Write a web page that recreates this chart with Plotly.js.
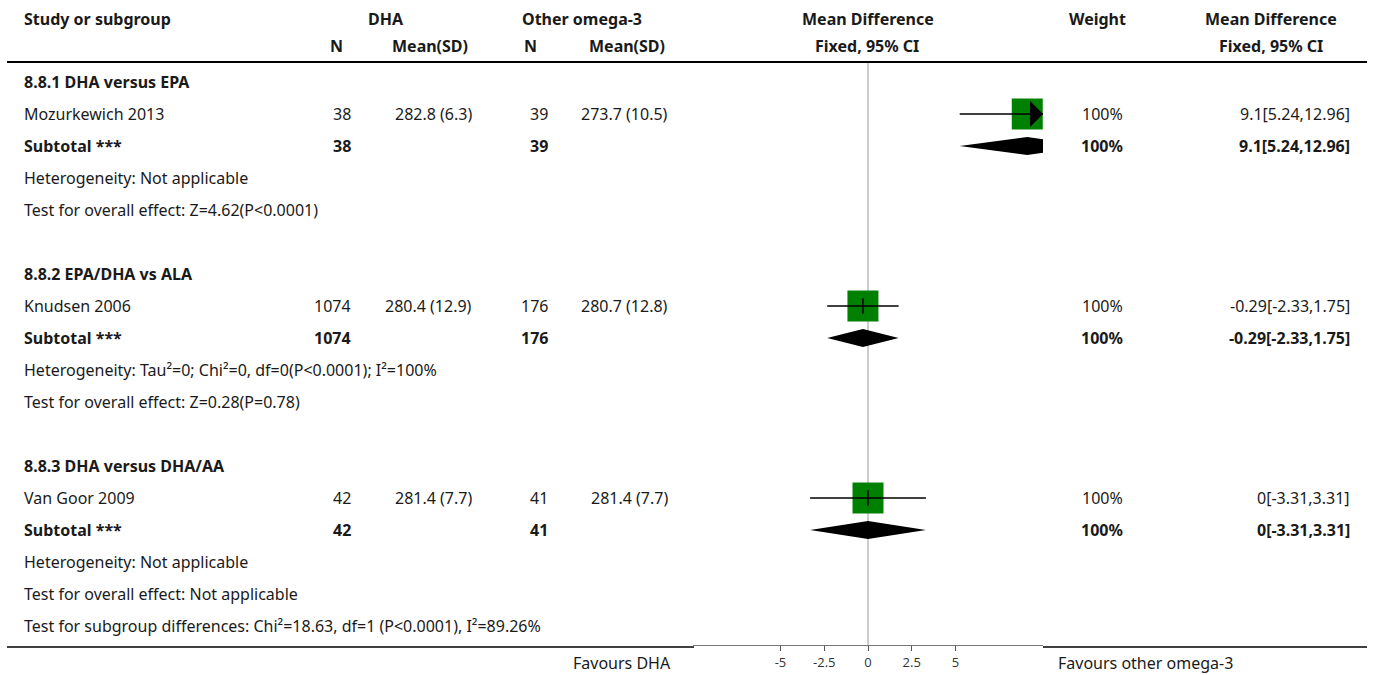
<!DOCTYPE html>
<html>
<head>
<meta charset="utf-8">
<script src="https://cdn.plot.ly/plotly-3.0.1.min.js"></script>
<style>html,body{margin:0;padding:0;background:#fff}#chart{width:1375px;height:675px}</style>
</head>
<body>
<div id="chart"></div>
<script>
// ---- data ----
const groups = ["8.8.1 DHA versus EPA", "8.8.2 EPA/DHA vs ALA", "8.8.3 DHA versus DHA/AA"];
const studies = ["Mozurkewich 2013", "Knudsen 2006", "Van Goor 2009"];
const dhaN = [38, 1074, 42];
const dhaMean = [282.8, 280.4, 281.4];
const dhaSD = [6.3, 12.9, 7.7];
const othN = [39, 176, 41];
const othMean = [273.7, 280.7, 281.4];
const othSD = [10.5, 12.8, 7.7];
const md = [9.1, -0.29, 0];
const ciLo = [5.24, -2.33, -3.31];
const ciHi = [12.96, 1.75, 3.31];
const weights = ["100%", "100%", "100%"];
const subMd = [9.1, -0.29, 0];
const subLo = [5.24, -2.33, -3.31];
const subHi = [12.96, 1.75, 3.31];
const subWeights = ["100%", "100%", "100%"];
const heterogeneity = ["Heterogeneity: Not applicable",
  "Heterogeneity: Tau\u00b2=0; Chi\u00b2=0, df=0(P<0.0001); I\u00b2=100%",
  "Heterogeneity: Not applicable"];
const overallEffect = ["Test for overall effect: Z=4.62(P<0.0001)",
  "Test for overall effect: Z=0.28(P=0.78)",
  "Test for overall effect: Not applicable"];
const subgroupTest = "Test for subgroup differences: Chi\u00b2=18.63, df=1 (P<0.0001), I\u00b2=89.26%";
const tickVals = [-5, -2.5, 0, 2.5, 5];
const tickText = ["-5", "-2.5", "0", "2.5", "5"];
const favoursLeft = "Favours DHA";
const favoursRight = "Favours other omega-3";

// ---- layout helpers ----
const W = 1375, H = 675;
const FONT = "'Noto Sans', 'Open Sans', sans-serif";
const FS = 16;
const TXT = "#1a1a1a";
const XMIN = -10, XMAX = 10;
const px = v => v / W;
const py = v => 1 - v / H;
const rowTop = 82, rowStep = 32, axisPx = 645;

const ann = [];
function t(text, xpx, y, anchor, bold, yref, size, color) {
  ann.push({
    text: bold ? "<b>" + text + "</b>" : text,
    x: px(xpx), xref: "paper",
    y: y, yref: yref || "y",
    xanchor: anchor, yanchor: "middle",
    showarrow: false,
    font: {family: FONT, size: size || FS, color: color || TXT}
  });
}

// headers
t("Study or subgroup", 22, py(19), "left", true, "paper");
t("DHA", 386, py(19), "center", true, "paper");
t("Other omega-3", 582, py(19), "center", true, "paper");
t("Mean Difference", 868, py(19), "center", true, "paper");
t("Weight", 1097, py(19), "center", true, "paper");
t("Mean Difference", 1271, py(19), "center", true, "paper");
t("N", 336, py(46), "center", true, "paper");
t("Mean(SD)", 430, py(46), "center", true, "paper");
t("N", 530, py(46), "center", true, "paper");
t("Mean(SD)", 627, py(46), "center", true, "paper");
t("Fixed, 95% CI", 867, py(46), "center", true, "paper");
t("Fixed, 95% CI", 1271, py(46), "center", true, "paper");

const traces = [];
const ciText = (m, l, h) => m + "[" + l + "," + h + "]";

function clipPoly(xs, ys) {
  function clipEdge(pts, inside, inter) {
    const out = [];
    for (let i = 0; i < pts.length; i++) {
      const a = pts[i], b = pts[(i + 1) % pts.length];
      const ai = inside(a), bi = inside(b);
      if (ai) out.push(a);
      if (ai !== bi) out.push(inter(a, b));
    }
    return out;
  }
  let pts = xs.map((x, i) => [x, ys[i]]);
  const ix = (a, b, X) => [X, a[1] + (b[1] - a[1]) * (X - a[0]) / (b[0] - a[0])];
  pts = clipEdge(pts, p => p[0] <= XMAX, (a, b) => ix(a, b, XMAX));
  pts = clipEdge(pts, p => p[0] >= XMIN, (a, b) => ix(a, b, XMIN));
  pts.push(pts[0]);
  return {x: pts.map(p => p[0]), y: pts.map(p => p[1])};
}

const BOX = 31;
const unitPx = 350 / (XMAX - XMIN);
const arrowW = 13 / unitPx, arrowH = 13 / rowStep;

for (let g = 0; g < groups.length; g++) {
  const base = g * 6;
  t(groups[g], 22, base, "left", true);
  const r = base + 1;
  t(studies[g], 22, r, "left", false);
  t(String(dhaN[g]), 353, r, "right", false);
  t(dhaMean[g] + " (" + dhaSD[g] + ")", 474, r, "right", false);
  t(String(othN[g]), 550, r, "right", false);
  t(othMean[g] + " (" + othSD[g] + ")", 670, r, "right", false);
  t(weights[g], 1125, r, "right", false);
  t(ciText(md[g], ciLo[g], ciHi[g]), 1352, r, "right", false);
  const s = base + 2;
  t("Subtotal ***", 22, s, "left", true);
  t(String(dhaN[g]), 353, s, "right", true);
  t(String(othN[g]), 550, s, "right", true);
  t(subWeights[g], 1125, s, "right", true);
  t(ciText(subMd[g], subLo[g], subHi[g]), 1352, s, "right", true);
  t(heterogeneity[g], 22, base + 3, "left", false);
  t(overallEffect[g], 22, base + 4, "left", false);

  traces.push({x: [md[g]], y: [r], mode: "markers", type: "scatter",
    marker: {symbol: "square", size: BOX, color: "#008000", line: {width: 0}},
    hoverinfo: "skip", cliponaxis: true});
  const l0 = Math.max(ciLo[g], XMIN), l1 = Math.min(ciHi[g], XMAX);
  traces.push({x: [l0, l1], y: [r, r], mode: "lines", type: "scatter",
    line: {color: "#000", width: 1.5}, hoverinfo: "skip"});
  const clipped = ciHi[g] > XMAX || ciLo[g] < XMIN;
  if (!clipped) {
    traces.push({x: [md[g]], y: [r], mode: "markers", type: "scatter",
      marker: {symbol: "line-ns", size: 11, line: {color: "#000", width: 1.5}}, hoverinfo: "skip"});
  }
  if (ciHi[g] > XMAX) {
    traces.push({x: [XMAX - arrowW, XMAX, XMAX - arrowW, XMAX - arrowW], y: [r - arrowH, r, r + arrowH, r - arrowH],
      mode: "lines", type: "scatter", fill: "toself", fillcolor: "#000", line: {width: 0, color: "#000"}, hoverinfo: "skip"});
  }
  if (ciLo[g] < XMIN) {
    traces.push({x: [XMIN + arrowW, XMIN, XMIN + arrowW, XMIN + arrowW], y: [r - arrowH, r, r + arrowH, r - arrowH],
      mode: "lines", type: "scatter", fill: "toself", fillcolor: "#000", line: {width: 0, color: "#000"}, hoverinfo: "skip"});
  }
  const hh = 0.28;
  const d = clipPoly([subLo[g], subMd[g], subHi[g], subMd[g]], [s, s - hh, s, s + hh]);
  traces.push({x: d.x, y: d.y, mode: "lines", type: "scatter", fill: "toself",
    fillcolor: "#000", line: {width: 0, color: "#000"}, hoverinfo: "skip"});
}
t(subgroupTest, 22, 17, "left", false);

t(favoursLeft, 622, py(663), "center", false, "paper");
t(favoursRight, 1145, py(663), "center", false, "paper");

const yBottom = (axisPx - rowTop) / rowStep;
const yTop = -rowTop / rowStep;

const shapes = [
  {type: "line", xref: "paper", yref: "paper", x0: px(7), x1: px(1367), y0: py(62), y1: py(62),
    line: {color: "#000", width: 2}},
  {type: "line", xref: "paper", yref: "paper", x0: px(7), x1: px(694), y0: py(647), y1: py(647),
    line: {color: "#000", width: 1.5}},
  {type: "line", xref: "paper", yref: "paper", x0: px(1043), x1: px(1367), y0: py(647), y1: py(647),
    line: {color: "#000", width: 1.5}},
  {type: "line", xref: "x", yref: "y", x0: 0, x1: 0, y0: (63 - rowTop) / rowStep, y1: yBottom,
    line: {color: "#999", width: 1}, layer: "below"}
];

const layout = {
  width: W, height: H,
  margin: {l: 0, r: 0, t: 0, b: 0},
  paper_bgcolor: "#fff", plot_bgcolor: "rgba(0,0,0,0)",
  showlegend: false,
  xaxis: {
    domain: [px(693), px(1043)], range: [XMIN, XMAX],
    showgrid: false, zeroline: false, showline: true, linecolor: "#777", linewidth: 1,
    ticks: "outside", ticklen: 5, tickcolor: "#555", tickwidth: 1,
    tickvals: tickVals, ticktext: tickText,
    tickfont: {family: "'Open Sans', sans-serif", size: 13, color: "#333"},
    fixedrange: true
  },
  yaxis: {
    domain: [1 - axisPx / H, 1], range: [yBottom, yTop],
    showgrid: false, zeroline: false, showline: false, showticklabels: false, ticks: "",
    fixedrange: true
  },
  shapes: shapes,
  annotations: ann
};

Plotly.newPlot("chart", traces, layout, {displayModeBar: false, staticPlot: true});
</script>
</body>
</html>
